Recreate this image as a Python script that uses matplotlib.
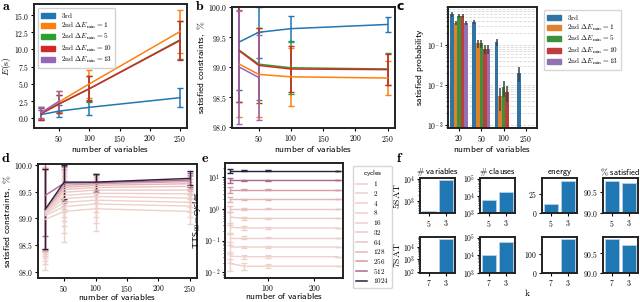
import numpy as np
import matplotlib
matplotlib.use('Agg')
import matplotlib.pyplot as plt
from matplotlib.patches import Patch
from matplotlib.lines import Line2D
from matplotlib.colors import Normalize
from matplotlib.ticker import FuncFormatter, FixedLocator, LogLocator, NullFormatter
import seaborn as sns

plt.rcParams['font.family'] = ['DejaVu Sans']
plt.rcParams['mathtext.fontset'] = 'cm'

# ---- data ----
n_vars = [20, 50, 100, 250]
method_labels = [r'$\mathrm{3rd}$', r'$\mathrm{2nd}\ \Delta E_{\min}{=}1$',
                 r'$\mathrm{2nd}\ \Delta E_{\min}{=}5$', r'$\mathrm{2nd}\ \Delta E_{\min}{=}10$',
                 r'$\mathrm{2nd}\ \Delta E_{\min}{=}13$']
method_colors = ['#1f77b4', '#ff7f0e', '#2ca02c', '#d62728', '#9467bd']
sns_colors = ['#3274a1', '#e1812c', '#3a923a', '#c03d3e', '#9372b2']

# a: energy
energy_mean = [[0.55, 1.05, 1.6, 3.0],
               [0.75, 2.4, 5.0, 12.6],
               [0.7, 2.1, 4.3, 11.4],
               [0.65, 2.1, 4.3, 11.3],
               [0.8, 2.5]]
energy_err = [[0.6, 0.9, 1.1, 1.4],
              [0.9, 1.5, 2.0, 3.1],
              [0.9, 1.3, 1.9, 2.8],
              [0.9, 1.3, 1.8, 2.8],
              [0.8, 1.4]]

# b: satisfied constraints
sat_mean = [[99.42, 99.58, 99.64, 99.71],
            [99.05, 98.88, 98.84, 98.82],
            [99.28, 99.05, 98.99, 98.97],
            [99.27, 99.03, 98.97, 98.96],
            [99.0, 98.83]]
sat_err = [[0.8, 0.42, 0.21, 0.12],
           [0.88, 0.7, 0.48, 0.29],
           [0.85, 0.6, 0.43, 0.26],
           [0.85, 0.62, 0.38, 0.26],
           [0.95, 0.7]]

# c: satisfied probability
prob_mean = [[0.6, 0.38, 0.12, 0.02],
             [0.36, 0.11, 0.0053, np.nan],
             [0.53, 0.11, 0.0089, np.nan],
             [0.53, 0.08, 0.0067, np.nan],
             [0.36, 0.08, np.nan, np.nan]]
prob_err = [[0.08, 0.04, 0.025, 0.008],
            [0.05, 0.025, 0.003, 0],
            [0.06, 0.025, 0.004, 0],
            [0.06, 0.02, 0.003, 0],
            [0.05, 0.02, 0, 0]]

# d, e: cycles sweep
cycles = [1, 2, 4, 8, 16, 32, 64, 128, 256, 512, 1024]
sat_cyc_mean = [[98.98, 99.13, 99.18, 99.13],
                [99.05, 99.22, 99.27, 99.23],
                [99.08, 99.30, 99.34, 99.30],
                [99.10, 99.37, 99.41, 99.38],
                [99.12, 99.43, 99.47, 99.46],
                [99.13, 99.49, 99.53, 99.53],
                [99.14, 99.54, 99.58, 99.60],
                [99.15, 99.58, 99.62, 99.65],
                [99.16, 99.62, 99.65, 99.69],
                [99.43, 99.66, 99.67, 99.72],
                [99.17, 99.68, 99.68, 99.75]]
sat_cyc_err = [[0.95, 0.58, 0.41, 0.23],
               [0.9, 0.5, 0.36, 0.2],
               [0.88, 0.45, 0.32, 0.18],
               [0.85, 0.42, 0.3, 0.17],
               [0.82, 0.4, 0.27, 0.16],
               [0.8, 0.38, 0.25, 0.15],
               [0.78, 0.36, 0.23, 0.14],
               [0.77, 0.35, 0.2, 0.14],
               [0.76, 0.34, 0.18, 0.13],
               [0.76, 0.33, 0.17, 0.13],
               [0.75, 0.32, 0.15, 0.13]]
tts_mean = [[0.019, 0.0155, 0.0156, 0.0156],
            [0.032, 0.031, 0.031, 0.031],
            [0.063, 0.0625, 0.0625, 0.0625],
            [0.125, 0.125, 0.125, 0.125],
            [0.26, 0.25, 0.25, 0.25],
            [0.55, 0.5, 0.5, 0.5],
            [1.0, 1.0, 1.0, 1.0],
            [2.0, 2.0, 2.0, 2.0],
            [4.0, 4.0, 4.0, 4.0],
            [8.0, 8.0, 8.0, 8.0],
            [16.0, 16.0, 16.0, 16.0]]
tts_err = [[0.008, 0.004, 0.002, 0.0],
           [0.012, 0.004, 0.003, 0.0],
           [0.025, 0.006, 0.004, 0.0],
           [0.05, 0.012, 0.006, 0.0],
           [0.1, 0.03, 0.01, 0.0],
           [0.25, 0.05, 0.02, 0.0],
           [0.2, 0.05, 0.03, 0.0],
           [0.4, 0.1, 0.05, 0.0],
           [0.8, 0.2, 0.1, 0.0],
           [1.5, 0.4, 0.2, 0.0],
           [2.5, 0.8, 0.4, 0.0]]

# f: reduction comparison
f_rows = [r'$\mathrm{5SAT}$', r'$\mathrm{7SAT}$']
f_cats = [['5', '3'], ['7', '3']]
f_titles = ['# variables', '# clauses', 'energy', '% satisfied']
f_vals = [[[360, 8800], [5400, 17600], [12, 42], [90.76, 90.70]],
          [[100, 45000], [10000, 60000], [5, 180], [90.85, 90.70]]]


# ---- helpers ----
W, H = 640, 302
fig = plt.figure(figsize=(6.4, 3.02), dpi=100)
TS = 5.5   # tick label size
LS = 6.8   # axis label size


def sf(s):
    # LaTeX-like sans label through mathtext
    s = s.replace('%', r'\%').replace('#', r'\#').replace(' ', r'\ ')
    return r'$\mathsf{' + s + '}$'


def px_axes(l, t, r, b):
    return fig.add_axes([l / W, 1 - b / H, (r - l) / W, (b - t) / H])


def style(ax):
    for s in ax.spines.values():
        s.set_linewidth(1.4)
        s.set_color('#222222')
    ax.tick_params(labelsize=TS, length=2.2, width=0.8, pad=1.2)
    ax.tick_params(which='minor', length=1.3, width=0.5)


fmt1 = FuncFormatter(lambda v, p: f'${v:.1f}$')
fmtg = FuncFormatter(lambda v, p: f'${v:g}$')
fmtlog = FuncFormatter(lambda v, p: f'$10^{{{int(round(np.log10(v)))}}}$')


def log_ticks(ax):
    ax.yaxis.set_major_locator(LogLocator(base=10))
    ax.yaxis.set_major_formatter(fmtlog)
    ax.yaxis.set_minor_formatter(NullFormatter())


def panel_label(x, y, s, sans=False):
    if sans:
        fig.text(x / W, 1 - y / H, s, fontsize=9, fontweight='bold', va='center', ha='center')
    else:
        fig.text(x / W, 1 - y / H, r'$\mathbf{' + s + '}$', fontsize=10, va='center', ha='center')


leg_kw = dict(fontsize=5.2, handlelength=2.0, handleheight=0.7, labelspacing=0.15,
              borderpad=0.45, handletextpad=0.8)
xticks = [50, 100, 150, 200, 250]

# ---- a ----
ax = px_axes(34, 4, 187, 128)
for m, e, c in zip(energy_mean, energy_err, method_colors):
    ax.errorbar(n_vars[:len(m)], m, yerr=e, color=c, lw=1.1, elinewidth=1.1, capsize=2.2)
ax.set_ylim(-1.4, 16.6)
ax.set_xticks(xticks)
ax.xaxis.set_major_formatter(fmtg)
ax.yaxis.set_major_locator(FixedLocator([0, 2.5, 5, 7.5, 10, 12.5, 15]))
ax.yaxis.set_major_formatter(fmt1)
ax.set_xlabel(sf('number of variables'), fontsize=LS, labelpad=0.5)
ax.set_ylabel(r'$E(\mathrm{s})$', fontsize=7, labelpad=0.5)
style(ax)
ax.legend([Patch(color=c) for c in method_colors], method_labels, loc='upper left',
          framealpha=0.9, **leg_kw)
panel_label(6, 6, 'a')

# ---- b ----
ax = px_axes(232, 7, 395, 128)
for m, e, c in zip(sat_mean, sat_err, method_colors):
    ax.errorbar(n_vars[:len(m)], m, yerr=e, color=c, lw=1.1, elinewidth=1.1, capsize=2.2)
ax.set_ylim(97.99, 100.0)
ax.set_xticks(xticks)
ax.xaxis.set_major_formatter(fmtg)
ax.yaxis.set_major_locator(FixedLocator([98, 98.5, 99, 99.5, 100]))
ax.yaxis.set_major_formatter(fmt1)
ax.set_xlabel(sf('number of variables'), fontsize=LS, labelpad=0.5)
ax.set_ylabel(sf('satisfied constraints, %'), fontsize=LS, labelpad=0.5)
style(ax)
panel_label(200, 6, 'b')

# ---- c ----
ax = px_axes(448, 7, 537, 128)
xpos = np.arange(len(n_vars))
bw = 0.8 / len(prob_mean)
for i, (m, e, c) in enumerate(zip(prob_mean, prob_err, sns_colors)):
    ax.bar(xpos - 0.4 + bw * (i + 0.5), m, width=bw, color=c, yerr=e,
           error_kw=dict(ecolor='#424242', elinewidth=1.1))
ax.set_yscale('log')
ax.set_ylim(8.4e-4, 0.9)
log_ticks(ax)
ax.set_xticks(xpos)
ax.set_xticklabels([f'${v}$' for v in n_vars])
ax.set_xlim(-0.5, len(n_vars) - 0.5)
ax.grid(True, which='both', axis='y', color='#d0d0d0', lw=0.5, ls=(0, (4, 2)))
ax.set_axisbelow(True)
ax.set_xlabel(sf('number of variables'), fontsize=LS, labelpad=0.5)
ax.set_ylabel(sf('satisfied probability'), fontsize=LS, labelpad=0.5)
style(ax)
fig.legend([Patch(color=c) for c in sns_colors], method_labels,
           bbox_to_anchor=(540 / W, 1 - 6 / H), loc='upper left', **leg_kw)
panel_label(400, 6, 'c', sans=True)

# ---- d ----
cmap = sns.cubehelix_palette(as_cmap=True)
norm = Normalize(min(cycles), max(cycles))
ax = px_axes(38, 164, 197, 278)
for cyc, m, e in zip(cycles, sat_cyc_mean, sat_cyc_err):
    ax.errorbar(n_vars, m, yerr=e, color=cmap(norm(cyc)), lw=1.0, elinewidth=1.0, capsize=2.2)
ax.set_ylim(97.88, 100.02)
ax.set_xticks(xticks)
ax.xaxis.set_major_formatter(fmtg)
ax.yaxis.set_major_locator(FixedLocator([98, 98.5, 99, 99.5, 100]))
ax.yaxis.set_major_formatter(fmt1)
ax.set_xlabel(sf('number of variables'), fontsize=LS, labelpad=-1)
ax.set_ylabel(sf('satisfied constraints, %'), fontsize=LS, labelpad=0.3)
style(ax)
panel_label(6, 158, 'd')

# ---- e ----
ax = px_axes(225, 163, 343, 278)
for cyc, m, e in zip(cycles, tts_mean, tts_err):
    ax.errorbar(n_vars, m, yerr=e, color=cmap(norm(cyc)), lw=1.0, elinewidth=1.0, capsize=2.2)
ax.set_yscale('log')
ax.set_ylim(0.0066, 28)
log_ticks(ax)
ax.set_xticks([100, 200])
ax.xaxis.set_major_formatter(fmtg)
ax.set_xlabel(sf('number of variables'), fontsize=LS, labelpad=-1)
ax.set_ylabel(r'$\mathsf{TTS}_{99}\mathsf{{-}cycles}$', fontsize=LS, labelpad=0.5)
style(ax)
fig.legend([Line2D([], [], color=cmap(norm(c)), lw=1.1) for c in cycles],
           [f'${c}$' for c in cycles], title=sf('cycles'), title_fontsize=5.2,
           bbox_to_anchor=(349 / W, 1 - 162 / H), loc='upper left', fontsize=5.2,
           handlelength=1.6, labelspacing=0.1, borderpad=0.4, handletextpad=0.8)
panel_label(205, 158, 'e')

# ---- f ----
f_cols = [(420, 455), (480, 515), (542, 577), (603, 638)]
f_rows_px = [(178, 213), (237, 273)]
f_ylims = [[(300, 11000), (1000, 110000), (0, 46), (90.0, 90.82)],
           [(83, 63000), (1000, 110000), (0, 190), (90.0, 90.9)]]
f_yticks = [[None, None, [0, 25], [90.0, 90.5]],
            [None, None, [0, 100], [90.0, 90.5]]]
for r, (t, b) in enumerate(f_rows_px):
    for ci, (l, rr) in enumerate(f_cols):
        ax = px_axes(l, t, rr, b)
        ax.bar(f_cats[r], f_vals[r][ci], width=0.8, color='#1f77b4',
               edgecolor='#b8d0e6', lw=0.6)
        ax.set_xlim(-0.5, 1.5)
        ax.set_xticks([0, 1])
        ax.set_xticklabels([f'${v}$' for v in f_cats[r]])
        if ci < 2:
            ax.set_yscale('log')
            log_ticks(ax)
        else:
            ax.yaxis.set_major_locator(FixedLocator(f_yticks[r][ci]))
            ax.yaxis.set_major_formatter(fmtg if ci == 2 else fmt1)
        ax.set_ylim(*f_ylims[r][ci])
        style(ax)
        if r == 0:
            ax.set_title(sf(f_titles[ci]), fontsize=6.3, pad=1.5)
        if ci == 0:
            ax.set_ylabel(f_rows[r], fontsize=7, labelpad=0.5)
fig.text(527 / W, 1 - 292 / H, r'$\mathrm{k}$', fontsize=7, ha='center', va='center')
panel_label(400, 158, 'f')

fig.savefig('out.png', dpi=100)
